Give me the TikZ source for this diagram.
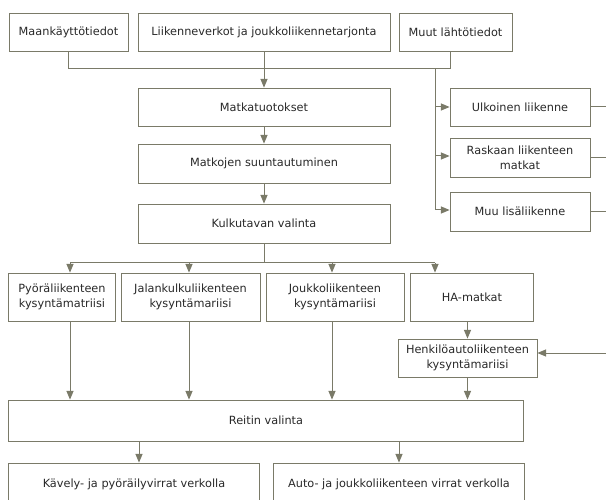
\documentclass[tikz,border=0pt]{standalone}
\usepackage{fontspec}
\setmainfont{DejaVu Sans}
\usepackage{xcolor}
\usetikzlibrary{arrows}
\definecolor{linegray}{RGB}{122,122,104}
\definecolor{textgray}{RGB}{40,40,40}
\tikzset{font={\fontsize{11.3pt}{15}\selectfont}}

\begin{document}
\begin{tikzpicture}[x=1pt,y=-1pt,->,>=triangle 45,line width=1pt,draw=linegray,
                    main box/.style={rectangle,draw=linegray,line width=0.9pt,inner sep=0pt,
                                     align=center,text=textgray,minimum height=38pt}]
  \useasboundingbox (0,0) rectangle (606,500);
  \clip (0,0) rectangle (606,500);

  % lahtotiedot
  \node[main box,minimum width=119pt] (maan) at (68.5,32) {Maankäyttötiedot};
  \node[main box,minimum width=252pt] (liik) at (264,32) {Liikenneverkot ja joukkoliikennetarjonta};
  \node[main box,minimum width=113pt] (muut) at (455.5,32) {Muut lähtötiedot};

  % mallin vaiheet
  \node[main box,minimum width=252pt] (tuot) at (264,107) {Matkatuotokset};
  \node[main box,minimum width=252pt,minimum height=39pt] (suun) at (264,163.5) {Matkojen suuntautuminen};
  \node[main box,minimum width=252pt,minimum height=39pt] (kulku) at (264,223.5) {Kulkutavan valinta};

  % lisaliikenne
  \node[main box,minimum width=140pt] (ulko) at (520,107) {Ulkoinen liikenne};
  \node[main box,minimum width=140pt,minimum height=39pt] (rask) at (520,157.5) {Raskaan liikenteen\\matkat};
  \node[main box,minimum width=140pt,minimum height=39pt] (muulisa) at (520,211.5) {Muu lisäliikenne};

  % kysyntamatriisit
  \node[main box,minimum width=107pt,minimum height=48pt] (pyora) at (62,297) {Pyöräliikenteen\\kysyntämatriisi};
  \node[main box,minimum width=139pt,minimum height=48pt] (jalan) at (190.5,297) {Jalankulkuliikenteen\\kysyntämariisi};
  \node[main box,minimum width=138pt,minimum height=48pt] (jouk) at (335,297) {Joukkoliikenteen\\kysyntämariisi};
  \node[main box,minimum width=123pt,minimum height=48pt] (ha) at (472,297) {HA-matkat};
  \node[main box,minimum width=139pt] (henk) at (467.5,358) {Henkilöautoliikenteen\\kysyntämariisi};

  % sijoittelu
  \node[main box,minimum width=515pt,minimum height=41pt] (reitin) at (266,420.5) {Reitin valinta};
  \node[main box,minimum width=251pt,minimum height=42pt] (kavely) at (134,484) {Kävely- ja pyöräilyvirrat verkolla};
  \node[main box,minimum width=251pt,minimum height=42pt] (auto) at (399,484) {Auto- ja joukkoliikenteen virrat verkolla};

  \coordinate (bus) at (0,69);
  \coordinate (branch) at (435,69);
  \coordinate (split) at (0,263);
  \coordinate (p1) at (70,263);
  \coordinate (p2) at (189,263);
  \coordinate (p3) at (332,263);
  \coordinate (p4) at (435,263);
  \coordinate (right edge) at (606,0);

  \draw[-] (maan.south) -- (maan.south |- bus) -- ([xshift=-5.5pt]muut.south |- bus)
        -- ([xshift=-5.5pt]muut.south);
  \draw (branch) |- (ulko.west);
  \draw (branch) |- ([yshift=1.5pt]rask.west);
  \draw (branch) |- ([yshift=1.5pt]muulisa.west);
  \draw[-] (ulko.east) -- (ulko.east -| right edge);
  \draw[-] (rask.east) -- (rask.east -| right edge);
  \draw[-] (muulisa.east) -- (muulisa.east -| right edge);

  \path (liik) edge (tuot)
        (tuot) edge (suun)
        (suun) edge (kulku);

  \draw[-] (kulku.south) -- (kulku.south |- split);
  \draw[-] (p1) -- (p4);
  \draw (p1) -- (p1 |- pyora.north);
  \draw (p2) -- (p2 |- jalan.north);
  \draw (p3) -- (p3 |- jouk.north);
  \draw (p4) -- (p4 |- ha.north);

  \draw (p1 |- pyora.south) -- (p1 |- reitin.north);
  \draw (p2 |- jalan.south) -- (p2 |- reitin.north);
  \draw (p3 |- jouk.south) -- (p3 |- reitin.north);
  \draw (henk.north |- ha.south) -- (henk.north);
  \draw (henk.south) -- (henk.south |- reitin.north);
  \draw ([yshift=5pt]henk.east -| right edge) -- ([yshift=5pt]henk.east);

  \draw ([xshift=5pt]kavely.north |- reitin.south) -- ([xshift=5pt]kavely.north);
  \draw (auto.north |- reitin.south) -- (auto.north);
\end{tikzpicture}
\end{document}
